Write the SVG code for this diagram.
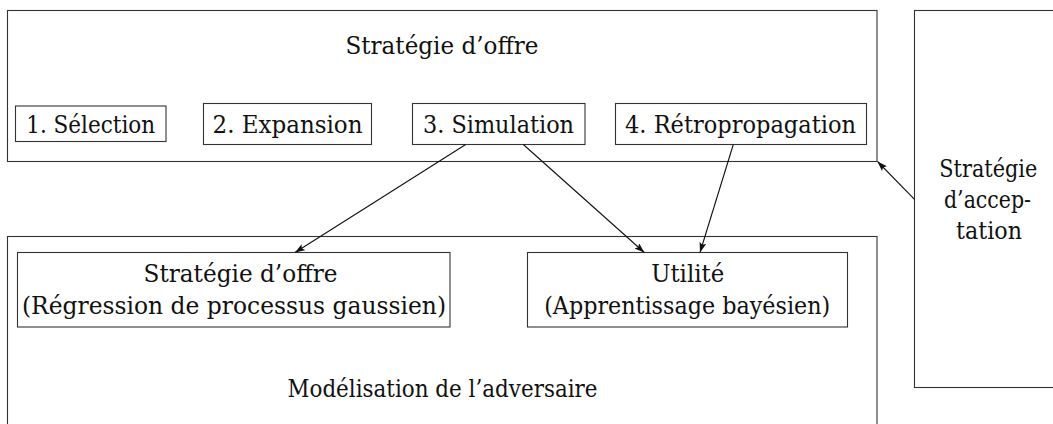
<svg xmlns="http://www.w3.org/2000/svg" width="1053" height="424" viewBox="0 0 1053 424">
<style>
.box{fill:none;stroke:#333;stroke-width:1.1}
.t{font-size:24px;fill:#111;text-anchor:middle}
.c{fill:none;stroke:#111;stroke-width:1.1}
</style>
<defs>
<marker id="ah" markerUnits="userSpaceOnUse" markerWidth="10" markerHeight="7" refX="10" refY="3.5" orient="auto">
<path d="M0,0 L10,3.5 L0,7 L2,3.5 z" fill="#111"/>
</marker>
</defs>
<rect width="1053" height="424" fill="#fff"/>
<g font-family="'DejaVu Serif', 'Liberation Serif', serif">
<g id="strategie-offre">
<rect class="box" x="7.5" y="10.5" width="869.5" height="151"/>
<text class="t" x="442" y="54" textLength="193" lengthAdjust="spacingAndGlyphs">Stratégie d’offre</text>
</g>
<g id="selection">
<rect class="box" x="15.5" y="106" width="150.5" height="35.5"/>
<text class="t" x="90.7" y="132.5" textLength="129" lengthAdjust="spacingAndGlyphs">1. Sélection</text>
</g>
<g id="expansion">
<rect class="box" x="203.5" y="103.5" width="168" height="41"/>
<text class="t" x="287.5" y="132.5" textLength="150" lengthAdjust="spacingAndGlyphs">2. Expansion</text>
</g>
<g id="simulation">
<rect class="box" x="412.5" y="103.5" width="172.5" height="41"/>
<text class="t" x="498.5" y="132.5" textLength="151" lengthAdjust="spacingAndGlyphs">3. Simulation</text>
</g>
<g id="retropropagation">
<rect class="box" x="615.5" y="103.5" width="251" height="41"/>
<text class="t" x="740.5" y="132.5" textLength="231" lengthAdjust="spacingAndGlyphs">4. Rétropropagation</text>
</g>
<g id="strategie-acceptation">
<rect class="box" x="914.5" y="10.5" width="150" height="377"/>
<text class="t" x="988.3" y="177" textLength="98" lengthAdjust="spacingAndGlyphs">Stratégie</text>
<text class="t" x="987.5" y="208" textLength="87" lengthAdjust="spacingAndGlyphs">d’accep-</text>
<text class="t" x="989" y="239" textLength="66" lengthAdjust="spacingAndGlyphs">tation</text>
</g>
<g id="modelisation-adversaire">
<rect class="box" x="7.5" y="236.5" width="869.5" height="200"/>
<text class="t" x="442.5" y="397" textLength="310" lengthAdjust="spacingAndGlyphs">Modélisation de l’adversaire</text>
</g>
<g id="strategie-offre-gp">
<rect class="box" x="17.5" y="252.5" width="432.5" height="74.5"/>
<text class="t" x="240.5" y="282" textLength="194" lengthAdjust="spacingAndGlyphs">Stratégie d’offre</text>
<text class="t" x="234" y="314" textLength="424" lengthAdjust="spacingAndGlyphs">(Régression de processus gaussien)</text>
</g>
<g id="utilite">
<rect class="box" x="527.5" y="252.5" width="320" height="74.5"/>
<text class="t" x="687.7" y="282" textLength="73" lengthAdjust="spacingAndGlyphs">Utilité</text>
<text class="t" x="687.2" y="314" textLength="286" lengthAdjust="spacingAndGlyphs">(Apprentissage bayésien)</text>
</g>
</g>
<g id="connectors">
<line class="c" x1="465.7" y1="144.5" x2="295" y2="252.5" marker-end="url(#ah)"/>
<line class="c" x1="523.3" y1="144.5" x2="644.3" y2="252.5" marker-end="url(#ah)"/>
<line class="c" x1="733.3" y1="144.5" x2="700" y2="252.5" marker-end="url(#ah)"/>
<line class="c" x1="914.5" y1="199.3" x2="877.5" y2="161.5" marker-end="url(#ah)"/>
</g>
</svg>
